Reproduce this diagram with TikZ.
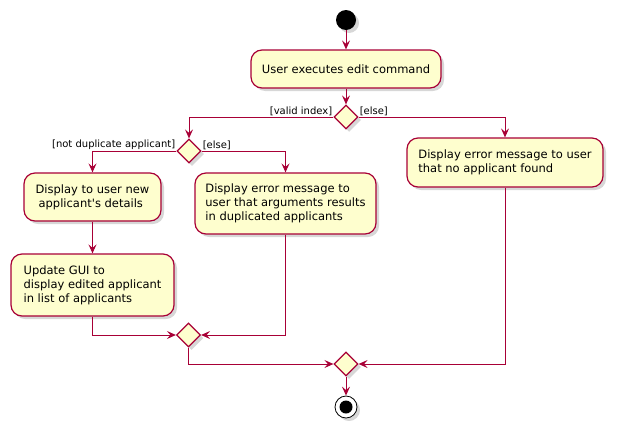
\documentclass[tikz,border=0pt]{standalone}
\usepackage{fontspec}
\usepackage{xcolor}
\usepackage{tikz}
\usetikzlibrary{positioning, shapes.geometric, arrows.meta, shadows}
\newfontfamily\umlfont{DejaVu Sans}
\definecolor{umlred}{HTML}{A80036}
\definecolor{umlfill}{HTML}{FEFECE}

\begin{document}
\begin{tikzpicture}[
        x = 1pt, y = -1pt,
        flow/.style = {draw=umlred, line width=1pt, -{Stealth[length=9pt, width=8pt, inset=3.5pt]}},
        guard/.style = {font=\umlfont\fontsize{10}{12}\selectfont, inner sep=1pt},
        umlshadow/.style = {drop shadow={shadow xshift=3pt, shadow yshift=-3pt, fill=black!45, opacity=0.35}}
    ]
    \tikzstyle{actbox} = [rectangle, rounded corners=11pt, draw=umlred, fill=umlfill, line width=1.2pt, inner sep=0pt, align=left, font=\umlfont\fontsize{11.5}{14}\selectfont, umlshadow];
    \tikzstyle{branch} = [diamond, draw=umlred, fill=umlfill, line width=1.2pt, minimum width=24pt, minimum height=24pt, inner sep=0pt, umlshadow];
    \useasboundingbox (0,0) rectangle (620,434);
    \node [circle, fill=black, minimum size=20pt, inner sep=0pt, umlshadow] (start) at (346,20) {};
    \node [actbox, minimum width=190pt, minimum height=38pt] (edit) at (346,69) {User executes edit command};
    \node [branch] (valid) at (346,117) {};
    \node [branch] (dup) at (189,151) {};
    \node [actbox, minimum width=137pt, minimum height=48pt] (show) at (92.5,197) {Display to user new\\\hspace*{3pt}applicant's details};
    \node [actbox, minimum width=181pt, minimum height=61pt] (duperr) at (285.5,203.5) {Display error message to\\user that arguments results\\in duplicated applicants};
    \node [actbox, minimum width=163pt, minimum height=62pt] (update) at (92.5,285) {Update GUI to\\display edited applicant\\in list of applicants};
    \node [actbox, minimum width=196pt, minimum height=49pt] (nofound) at (505,162.5) {Display error message to user\\that no applicant found};
    \node [branch] (mergedup) at (188.5,335) {};
    \node [branch] (mergeall) at (346,364) {};
    \node [circle, draw=black, fill=white, line width=0.8pt, minimum size=22pt, inner sep=0pt, umlshadow,
        path picture={\fill[black] (path picture bounding box.center) circle (6.5pt);}] (stop) at (346,407) {};
    % guards
    \node [guard, above left = 0pt and 0pt of valid.west] (validlbl) {[valid index]};
    \node [guard, above right = 0pt and 0pt of valid.east] (validelse) {[else]};
    \node [guard, above left = 0pt and 0pt of dup.west] (duplbl) {[not duplicate applicant]};
    \node [guard, above right = 0pt and 0pt of dup.east] (dupelse) {[else]};
    % flow
    \draw [flow] (start) -- (edit);
    \draw [flow] (edit) -- (valid);
    \draw [flow] (valid.west) -| (dup.north);
    \draw [flow] (valid.east) -| (nofound.north);
    \draw [flow] (dup.west) -| (show.north);
    \draw [flow] (dup.east) -| (duperr.north);
    \draw [flow] (show) -- (update);
    \draw [flow] (update.south) |- (mergedup.west);
    \draw [flow] (duperr.south) |- (mergedup.east);
    \draw [flow] (mergedup.south) |- (mergeall.west);
    \draw [flow] (nofound.south) |- (mergeall.east);
    \draw [flow] (mergeall) -- (stop);
\end{tikzpicture}
\end{document}
